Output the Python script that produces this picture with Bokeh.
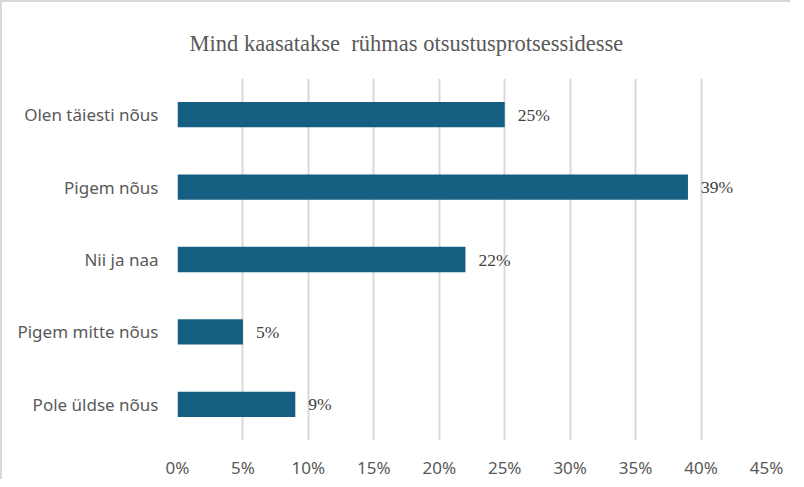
from bokeh.plotting import figure
from bokeh.models import ColumnDataSource, LabelSet, NumeralTickFormatter, FixedTicker, Range1d, Title
from bokeh.embed import file_html
from bokeh.resources import INLINE

categories = ["Olen täiesti nõus", "Pigem nõus", "Nii ja naa", "Pigem mitte nõus", "Pole üldse nõus"]
values = [0.25, 0.39, 0.22, 0.05, 0.09]
labels = ["25%", "39%", "22%", "5%", "9%"]
x_ticks = [0, 0.05, 0.10, 0.15, 0.20, 0.25, 0.30, 0.35, 0.40, 0.45]
title_text = "Mind kaasatakse \u00a0rühmas otsustusprotsessidesse"

src = ColumnDataSource(dict(cat=categories, val=values, lab=labels))

p = figure(
    width=790, height=479,
    y_range=list(reversed(categories)),
    x_range=Range1d(0, 0.45),
    output_backend="svg", toolbar_location=None,
    min_border_left=175, min_border_right=26, min_border_top=76, min_border_bottom=40,
    styles={"border-top": "2px solid #d9d9d9", "border-left": "2px solid #d9d9d9"},
)
p.outline_line_color = None

t = Title(text=title_text, text_font="Liberation Serif", text_font_size="22.5px",
          text_font_style="normal", text_color="#595959", align="left", offset=12,
          standoff=46)
p.add_layout(t, "above")

p.hbar(y="cat", right="val", left=0, height=0.35, source=src, color="#156082", line_color=None)

lbl = LabelSet(x="val", y="cat", text="lab", source=src, x_offset=13,
               text_baseline="middle", text_font_size="17.5px", text_color="#404040",
               text_font="Noto Sans")
p.add_layout(lbl)

p.xaxis.ticker = FixedTicker(ticks=x_ticks)
p.xaxis.formatter = NumeralTickFormatter(format="0%")
for ax in (p.xaxis[0], p.yaxis[0]):
    ax.axis_line_color = None
    ax.major_tick_line_color = None
    ax.minor_tick_line_color = None
    ax.major_label_text_font = "Noto Sans"
    ax.major_label_text_font_size = "17px"
    ax.major_label_text_color = "#595959"
p.xaxis.major_label_standoff = 9
p.yaxis.major_label_standoff = 13

p.xgrid.grid_line_color = "#d9d9d9"
p.xgrid.grid_line_width = 2
p.ygrid.grid_line_color = None

open("out.html", "w").write(file_html(p, INLINE))
